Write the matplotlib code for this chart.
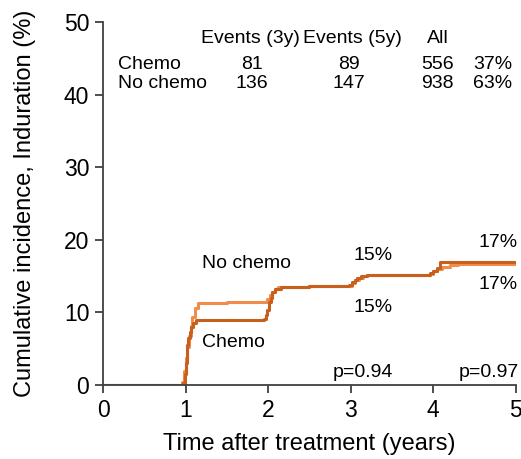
import matplotlib
matplotlib.use("Agg")
import matplotlib.pyplot as plt

plt.rcParams['font.family'] = ['Liberation Sans', 'DejaVu Sans']

# step curves (time in years, cumulative incidence %)
chemo_t = [0, 0.97, 0.99, 1.0, 1.01, 1.02, 1.03, 1.05, 1.07, 1.09, 1.12, 1.95, 1.97, 1.99, 2.01,
           2.03, 2.05, 2.08, 2.15, 2.5, 2.98, 3.02, 3.05, 3.08, 3.12, 3.2, 3.96, 4.0, 4.04, 4.08, 5.0]
chemo_v = [0, 0.3, 1.5, 3.0, 4.5, 5.5, 6.5, 7.3, 8.0, 8.6, 9.0, 9.1, 9.6, 10.3, 11.4,
           12.0, 12.8, 13.3, 13.5, 13.6, 13.8, 14.2, 14.5, 14.8, 15.0, 15.1, 15.4, 15.7, 16.1, 16.9, 16.9]

nochemo_t = [0, 0.96, 0.98, 1.0, 1.02, 1.04, 1.06, 1.08, 1.11, 1.15, 1.5, 1.94, 1.98, 2.02, 2.05,
             2.08, 2.12, 2.5, 2.98, 3.02, 3.05, 3.1, 3.15, 3.2, 3.96, 4.0, 4.05, 4.1, 4.2, 4.3, 5.0]
nochemo_v = [0, 0.4, 2.0, 3.8, 5.2, 6.8, 8.2, 9.4, 10.6, 11.3, 11.4, 11.5, 11.9, 12.4, 12.8,
             13.3, 13.5, 13.6, 13.7, 14.1, 14.5, 14.8, 15.0, 15.1, 15.3, 15.7, 16.0, 16.3, 16.5, 16.7, 16.8]

groups = ['Chemo', 'No chemo']
events_3y = [81, 136]
events_5y = [89, 147]
n_all = [556, 938]
share = ['37%', '63%']

c_dark = '#c85f1c'
c_light = '#f08c4c'
spine_c = '#404040'

fig = plt.figure(figsize=(5.21, 4.59), dpi=100)
ax = fig.add_axes([0.198, 0.161, 0.792, 0.791])

ax.step(nochemo_t, nochemo_v, where='post', color=c_light, lw=2.2)
ax.step(chemo_t, chemo_v, where='post', color=c_dark, lw=2.2)

ax.set_xlim(0, 5)
ax.set_ylim(0, 50)
ax.set_xticks(range(6))
ax.set_yticks(range(0, 51, 10))
for s in ['top', 'right']:
    ax.spines[s].set_visible(False)
for s in ['left', 'bottom']:
    ax.spines[s].set_color(spine_c)
    ax.spines[s].set_linewidth(1.3)
ax.tick_params(direction='out', length=6, width=1.3, color=spine_c, labelsize=16.5, pad=4)
ax.set_xlabel('Time after treatment (years)', fontsize=17, labelpad=8)
ax.set_ylabel('Cumulative incidence, Induration (%)', fontsize=17)
ax.yaxis.set_label_coords(-0.163, 0.5)

fs = 14
# table of events at the top
ax.text(1.78, 47.8, 'Events (3y)', fontsize=fs, ha='center', va='center')
ax.text(3.02, 47.8, 'Events (5y)', fontsize=fs, ha='center', va='center')
ax.text(4.05, 47.8, 'All', fontsize=fs, ha='center', va='center')
for i, yy in enumerate([44.2, 41.6]):
    ax.text(0.18, yy, groups[i], fontsize=fs, ha='left', va='center')
    ax.text(1.8, yy, str(events_3y[i]), fontsize=fs, ha='center', va='center')
    ax.text(2.98, yy, str(events_5y[i]), fontsize=fs, ha='center', va='center')
    ax.text(4.05, yy, str(n_all[i]), fontsize=fs, ha='center', va='center')
    ax.text(4.72, yy, share[i], fontsize=fs, ha='center', va='center')

# curve labels
ax.text(1.2, 16.8, 'No chemo', fontsize=fs, ha='left', va='center')
ax.text(1.2, 5.8, 'Chemo', fontsize=fs, ha='left', va='center')
ax.text(3.27, 17.9, '15%', fontsize=fs, ha='center', va='center')
ax.text(3.27, 10.7, '15%', fontsize=fs, ha='center', va='center')
ax.text(4.78, 19.6, '17%', fontsize=fs, ha='center', va='center')
ax.text(4.78, 13.8, '17%', fontsize=fs, ha='center', va='center')
ax.text(3.15, 1.8, 'p=0.94', fontsize=fs, ha='center', va='center')
ax.text(4.67, 1.8, 'p=0.97', fontsize=fs, ha='center', va='center')

fig.savefig('out.png', dpi=100)
